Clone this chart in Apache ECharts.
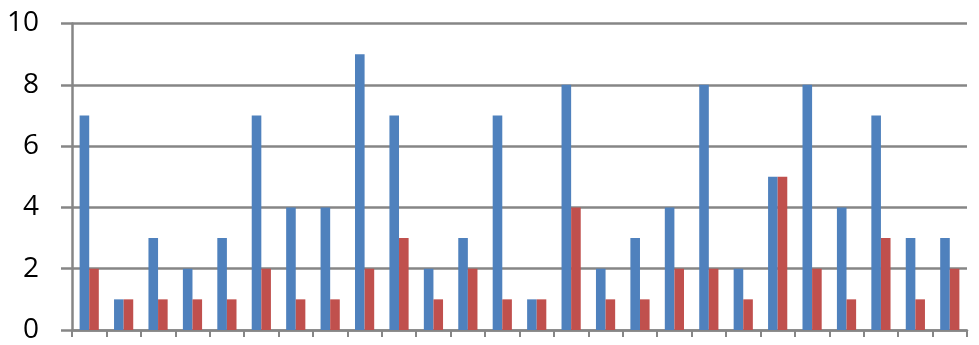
<!DOCTYPE html>
<html><head><meta charset="utf-8">
<script src="https://cdn.jsdelivr.net/npm/echarts@6/dist/echarts.min.js"></script>
<style>html,body{margin:0;padding:0;background:#fff}#c{width:979px;height:345px}</style>
</head><body><div id="c"></div>
<script>
const categories = ['1','2','3','4','5','6','7','8','9','10','11','12','13','14','15','16','17','18','19','20','21','22','23','24','25','26'];
const seriesA = [7,1,3,2,3,7,4,4,9,7,2,3,7,1,8,2,3,4,8,2,5,8,4,7,3,3];
const seriesB = [2,1,1,1,1,2,1,1,2,3,1,2,1,1,4,1,1,2,2,1,5,2,1,3,1,2];
const yTicks = {min:0, max:10, interval:2};

const chart = echarts.init(document.getElementById('c'), null, {renderer:'canvas'});
chart.setOption({
  animation:false,
  grid:{left:72, right:12, top:23.5, bottom:15, containLabel:false},
  xAxis:{type:'category', data:categories, boundaryGap:true,
    axisLine:{lineStyle:{color:'#868686', width:2.5}},
    axisTick:{show:true, alignWithLabel:false, length:7, lineStyle:{color:'#868686', width:2}},
    axisLabel:{show:false}, splitLine:{show:false}},
  yAxis:{type:'value', min:yTicks.min, max:yTicks.max, interval:yTicks.interval,
    axisLine:{show:true, lineStyle:{color:'#868686', width:2.5}},
    axisTick:{show:true, inside:false, length:11, lineStyle:{color:'#868686', width:2.5}},
    axisLabel:{margin:33, color:'#000', fontSize:28, fontFamily:'Open Sans, Liberation Sans, sans-serif'},
    splitLine:{lineStyle:{color:'#868686', width:2.5}}},
  series:[
    {type:'bar', data:seriesA, barWidth:9.6, barGap:'0%', itemStyle:{color:'#4F81BD'}},
    {type:'bar', data:seriesB, barWidth:9.6, barGap:'0%', itemStyle:{color:'#C0504D'}}
  ]
});
</script></body></html>
